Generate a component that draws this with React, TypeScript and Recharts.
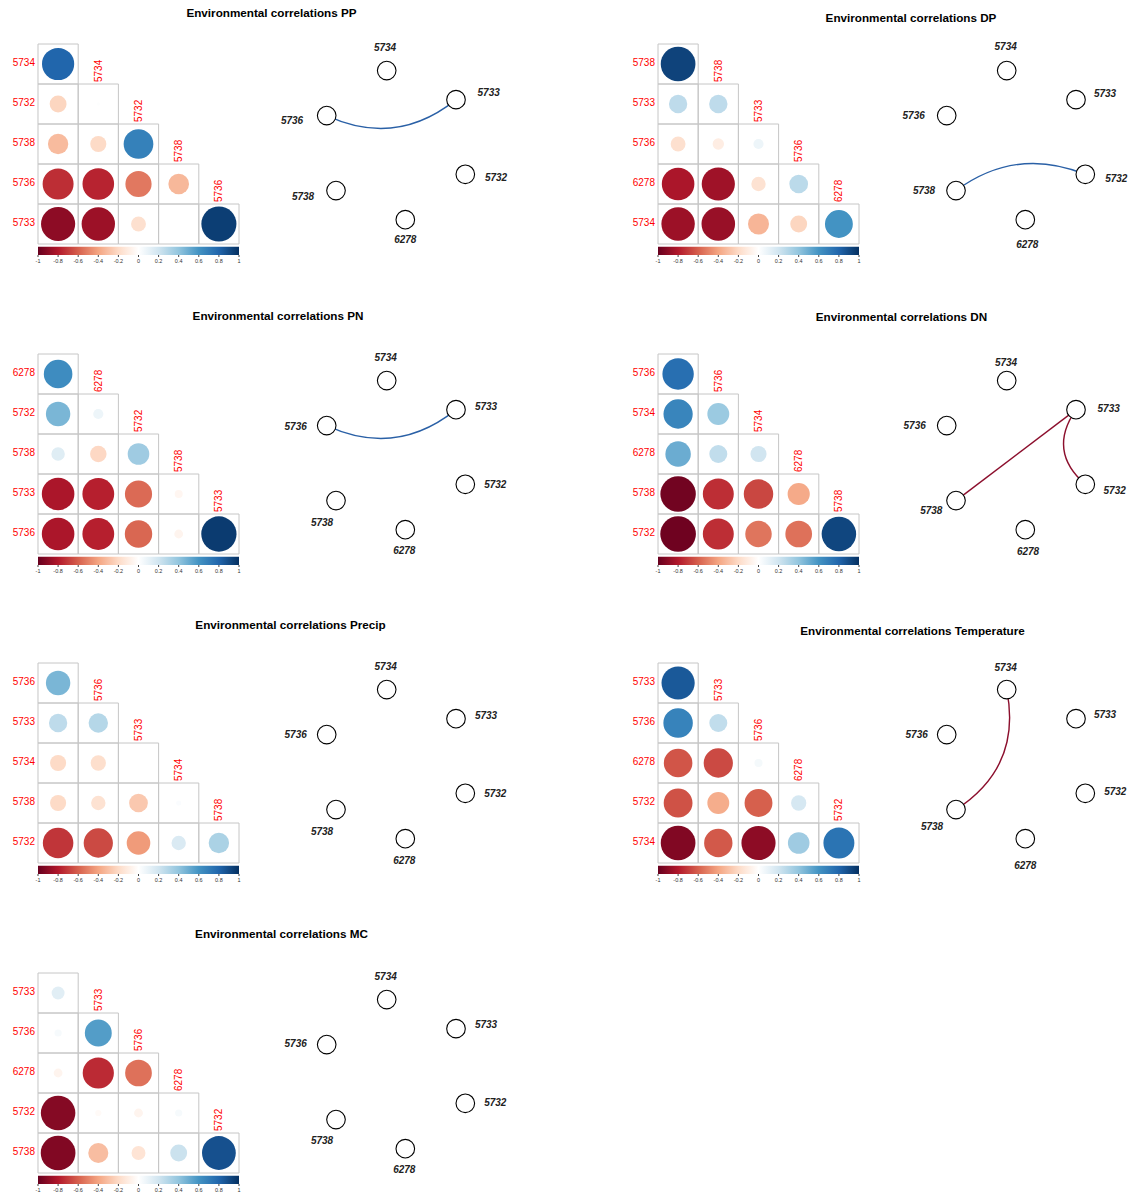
import React from 'react';
import { ScatterChart, Scatter, XAxis, YAxis, ZAxis, Cell, ReferenceArea } from 'recharts';

const FONT = '"Liberation Sans", Arial, Helvetica, sans-serif';

// variable order: first five are the columns, last five are the rows
const ppVars = ['6278', '5734', '5732', '5738', '5736', '5733'];
const ppCorr = [
  [0.8],
  [-0.22, 0.01],
  [-0.32, -0.2, 0.68],
  [-0.74, -0.77, -0.53, -0.33],
  [-0.9, -0.86, -0.17, 0.0, 0.95],
];
const ppEdges: [string, string, number][] = [['5736', '5733', 0.95]];

const dpVars = ['5732', '5738', '5733', '5736', '6278', '5734'];
const dpCorr = [
  [0.93],
  [0.26, 0.26],
  [-0.17, -0.1, 0.08],
  [-0.82, -0.85, -0.16, 0.27],
  [-0.86, -0.87, -0.34, -0.22, 0.6],
];
const dpEdges: [string, string, number][] = [['5738', '5732', 0.93]];

const pnVars = ['5734', '6278', '5732', '5738', '5733', '5736'];
const pnCorr = [
  [0.63],
  [0.46, 0.08],
  [0.14, -0.21, 0.36],
  [-0.82, -0.78, -0.57, -0.05],
  [-0.82, -0.78, -0.58, -0.06, 0.96],
];
const pnEdges: [string, string, number][] = [['5736', '5733', 0.96]];

const dnVars = ['5733', '5736', '5734', '6278', '5738', '5732'];
const dnCorr = [
  [0.76],
  [0.66, 0.37],
  [0.5, 0.25, 0.2],
  [-0.97, -0.74, -0.67, -0.38],
  [-0.98, -0.74, -0.54, -0.55, 0.92],
];
const dnEdges: [string, string, number][] = [
  ['5733', '5738', -0.97],
  ['5733', '5732', -0.98],
];

const precipVars = ['6278', '5736', '5733', '5734', '5738', '5732'];
const precipCorr = [
  [0.46],
  [0.26, 0.29],
  [-0.2, -0.18, 0.0],
  [-0.2, -0.16, -0.27, 0.02],
  [-0.72, -0.66, -0.43, 0.16, 0.32],
];
const precipEdges: [string, string, number][] = [];

const tempVars = ['5738', '5733', '5736', '6278', '5732', '5734'];
const tempCorr = [
  [0.85],
  [0.67, 0.25],
  [-0.63, -0.66, 0.05],
  [-0.64, -0.37, -0.6, 0.18],
  [-0.93, -0.62, -0.9, 0.36, 0.74],
];
const tempEdges: [string, string, number][] = [['5734', '5738', -0.93]];

const mcVars = ['5734', '5733', '5736', '6278', '5732', '5738'];
const mcCorr = [
  [0.13],
  [0.04, 0.56],
  [-0.06, -0.75, -0.55],
  [-0.92, -0.03, -0.06, 0.04],
  [-0.93, -0.31, -0.15, 0.22, 0.88],
];
const mcEdges: [string, string, number][] = [];

// circle layout of the network nodes
const nodeNames = ['5734', '5733', '5732', '6278', '5738', '5736'];
const nodeX = [-0.124, 0.8, 0.924, 0.124, -0.8, -0.924];
const nodeY = [0.992, 0.605, -0.391, -0.995, -0.608, 0.392];

const cbTicks = [-1, -0.8, -0.6, -0.4, -0.2, 0, 0.2, 0.4, 0.6, 0.8, 1];

const STOPS = ['#67001F', '#B2182B', '#D6604D', '#F4A582', '#FDDBC7', '#FFFFFF', '#D1E5F0', '#92C5DE', '#4393C3', '#2166AC', '#053061'];

function hexToRgb(h: string) {
  return [parseInt(h.slice(1, 3), 16), parseInt(h.slice(3, 5), 16), parseInt(h.slice(5, 7), 16)];
}

function rdbu(v: number) {
  const t = Math.max(0, Math.min(10, ((v + 1) / 2) * 10));
  const i = Math.min(9, Math.floor(t));
  const f = t - i;
  const a = hexToRgb(STOPS[i]);
  const b = hexToRgb(STOPS[i + 1]);
  const c = a.map((x, k) => Math.round(x + (b[k] - x) * f));
  return `rgb(${c[0]},${c[1]},${c[2]})`;
}

const POS_EDGE = '#2A60A6';
const NEG_EDGE = '#8C0F2D';

// label offsets (px) for nodes, same order as nodeNames
const PANELS = [
  {
    title: 'Environmental correlations PP', vars: ppVars, corr: ppCorr, edges: ppEdges, curves: [0.31],
    x: 0, y: 0, titleX: 271.5, titleY: 13,
    labels: [[-1.7, -22.7], [32.7, -6.7], [30.7, 3.3], [0, 20], [-33, 5.7], [-34.7, 4.7]],
  },
  {
    title: 'Environmental correlations DP', vars: dpVars, corr: dpCorr, edges: dpEdges, curves: [-0.28],
    x: 620, y: 0, titleX: 911, titleY: 18,
    labels: [[-1, -24], [29, -6], [31, 4], [2, 25], [-32, 0], [-33, 0]],
  },
  {
    title: 'Environmental correlations PN', vars: pnVars, corr: pnCorr, edges: pnEdges, curves: [0.31],
    x: 0, y: 309.5, titleX: 278, titleY: 316,
    labels: [[-1, -23], [30, -3], [30, 0], [-1, 21], [-14, 22], [-31, 1]],
  },
  {
    title: 'Environmental correlations DN', vars: dnVars, corr: dnCorr, edges: dnEdges, curves: [0, 0.45],
    x: 620, y: 309.5, titleX: 901.5, titleY: 317,
    labels: [[-0.7, -17.7], [32.7, -1], [29.4, 5.7], [2.7, 22], [-24.7, 9.7], [-32, 0]],
  },
  {
    title: 'Environmental correlations Precip', vars: precipVars, corr: precipCorr, edges: precipEdges, curves: [],
    x: 0, y: 619, titleX: 290.5, titleY: 625,
    labels: [[-1, -23], [30, -3], [30, 0], [-1, 22], [-14, 22], [-31, 0]],
  },
  {
    title: 'Environmental correlations Temperature', vars: tempVars, corr: tempCorr, edges: tempEdges, curves: [-0.34],
    x: 620, y: 619, titleX: 912.5, titleY: 631,
    labels: [[-1, -22], [29, -4], [30, -2], [0, 27], [-24, 17], [-30, 0]],
  },
  {
    title: 'Environmental correlations MC', vars: mcVars, corr: mcCorr, edges: mcEdges, curves: [],
    x: 0, y: 928.5, titleX: 281.5, titleY: 934,
    labels: [[-1, -23], [30, -4], [30, -1], [-1, 21], [-14, 21], [-31, -1]],
  },
];

type Panel = typeof PANELS[number];

function CorrPlot({ p, idx }: { p: Panel; idx: number }) {
  const rows = p.vars.slice(1);
  const cols = p.vars.slice(0, 5);
  const points: { x: number; y: number; z: number; r: number }[] = [];
  p.corr.forEach((row, i) =>
    row.forEach((r, j) => points.push({ x: j + 1, y: i + 1, z: Math.abs(r), r }))
  );
  const colLabels = cols.map((name, j) => ({ x: j + 1, y: j + 0.5, z: 1, name }));
  // anchors the colour-bar axis so that its ticks get drawn
  const cbAnchors = cbTicks.map((v) => ({ x: v, y: 5.7, z: 0 }));
  const gradId = `cbgrad${idx}`;

  const rowTick = (props: any) => {
    const { x, y, payload } = props;
    return (
      <text x={x} y={y - 1.5} dy="0.355em" textAnchor="end" fill="#FF0000" fontSize={10} fontFamily={FONT}>
        {rows[payload.value - 1]}
      </text>
    );
  };

  const colLabel = (props: any) => {
    const { cx, cy, payload } = props;
    return (
      <text
        x={cx}
        y={cy - 2}
        transform={`rotate(-90 ${cx} ${cy - 2})`}
        textAnchor="start"
        dominantBaseline="central"
        fill="#FF0000"
        fontSize={10}
        fontFamily={FONT}
      >
        {payload.name}
      </text>
    );
  };

  return (
    <ScatterChart width={250} height={272} margin={{ top: 44, right: 11, bottom: 0, left: 0 }}>
      <defs>
        <linearGradient id={gradId} x1="0" y1="0" x2="1" y2="0">
          {STOPS.map((c, k) => (
            <stop key={k} offset={`${k * 10}%`} stopColor={c} />
          ))}
        </linearGradient>
      </defs>
      <XAxis
        xAxisId="cb"
        type="number"
        dataKey="x"
        domain={[-1, 1]}
        ticks={cbTicks}
        interval={0}
        height={17}
        tickSize={2}
        tickMargin={2}
        axisLine={false}
        tickLine={{ stroke: '#444' }}
        tick={{ fontSize: 5.5, fill: '#333', fontFamily: FONT }}
        allowDataOverflow
      />
      <XAxis type="number" dataKey="x" domain={[0.5, 5.5]} hide height={0} allowDataOverflow />
      <YAxis
        type="number"
        dataKey="y"
        domain={[0.5, 5.775]}
        reversed
        ticks={[1, 2, 3, 4, 5]}
        interval={0}
        width={38}
        tickSize={0}
        tickMargin={3}
        axisLine={false}
        tickLine={false}
        tick={rowTick}
        allowDataOverflow
      />
      <ZAxis type="number" dataKey="z" domain={[0, 1]} range={[0, 1018]} />
      {points.map((c, k) => (
        <ReferenceArea
          key={`cell${k}`}
          x1={c.x - 0.5}
          x2={c.x + 0.5}
          y1={c.y - 0.5}
          y2={c.y + 0.5}
          fill="none"
          stroke="#C6C6C6"
          strokeWidth={1}
          ifOverflow="visible"
        />
      ))}
      <ReferenceArea
        x1={0.5}
        x2={5.5}
        y1={5.5675}
        y2={5.775}
        fill={`url(#${gradId})`}
        fillOpacity={1}
        stroke="none"
        ifOverflow="visible"
      />
      <Scatter data={points} shape="circle" isAnimationActive={false}>
        {points.map((pt, k) => (
          <Cell key={k} fill={rdbu(pt.r)} />
        ))}
      </Scatter>
      <Scatter data={colLabels} shape={colLabel} isAnimationActive={false} />
      <Scatter xAxisId="cb" data={cbAnchors} shape={() => <g />} isAnimationActive={false} />
    </ScatterChart>
  );
}

function edgeLine(curv: number, color: string) {
  return (props: any) => {
    const pts = props.points || [];
    if (pts.length < 2) return <g />;
    const [a, b] = pts;
    const dx = b.x - a.x;
    const dy = b.y - a.y;
    const len = Math.sqrt(dx * dx + dy * dy);
    const mx = (a.x + b.x) / 2 + (-dy / len) * curv * len;
    const my = (a.y + b.y) / 2 + (dx / len) * curv * len;
    return <path d={`M${a.x},${a.y} Q${mx},${my} ${b.x},${b.y}`} fill="none" stroke={color} strokeWidth={1.4} />;
  };
}

function Network({ p }: { p: Panel }) {
  const nodes = nodeNames.map((name, k) => ({ x: nodeX[k], y: nodeY[k], name, k }));
  const nodeShape = (props: any) => {
    const { cx, cy, payload } = props;
    const [ox, oy] = p.labels[payload.k];
    return (
      <g>
        <circle cx={cx} cy={cy} r={9.3} fill="#FFFFFF" stroke="#000000" strokeWidth={1.1} />
        <text
          x={cx + ox}
          y={cy + oy}
          textAnchor="middle"
          dominantBaseline="central"
          fontSize={10}
          fontWeight="bold"
          fontStyle="italic"
          fill="#222"
          fontFamily={FONT}
        >
          {payload.name}
        </text>
      </g>
    );
  };
  return (
    <ScatterChart width={280} height={240} margin={{ top: 0, right: 0, bottom: 0, left: 0 }}>
      <XAxis type="number" dataKey="x" domain={[-140 / 75, 140 / 75]} hide height={0} allowDataOverflow />
      <YAxis type="number" dataKey="y" domain={[-120 / 75, 120 / 75]} hide width={0} allowDataOverflow />
      {p.edges.map(([a, b, r], e) => (
        <Scatter
          key={`edge${e}`}
          data={[nodes[nodeNames.indexOf(a)], nodes[nodeNames.indexOf(b)]]}
          shape={() => <g />}
          line={edgeLine(p.curves[e], r > 0 ? POS_EDGE : NEG_EDGE)}
          lineType="joint"
          isAnimationActive={false}
        />
      ))}
      <Scatter data={nodes} shape={nodeShape} isAnimationActive={false} />
    </ScatterChart>
  );
}

export default function App() {
  return (
    <div style={{ position: 'absolute', left: 0, top: 0, width: 1131, height: 1193, background: '#FFFFFF', fontFamily: FONT }}>
      {PANELS.map((p, idx) => (
        <React.Fragment key={idx}>
          <div
            style={{
              position: 'absolute',
              left: p.titleX - 200,
              top: p.titleY - 8,
              width: 400,
              height: 16,
              lineHeight: '16px',
              textAlign: 'center',
              fontSize: 11.7,
              fontWeight: 'bold',
              color: '#000',
              whiteSpace: 'nowrap',
            }}
          >
            {p.title}
          </div>
          <div style={{ position: 'absolute', left: p.x, top: p.y }}>
            <CorrPlot p={p} idx={idx} />
          </div>
          <div style={{ position: 'absolute', left: p.x + 256, top: p.y + 25.4 }}>
            <Network p={p} />
          </div>
        </React.Fragment>
      ))}
    </div>
  );
}
